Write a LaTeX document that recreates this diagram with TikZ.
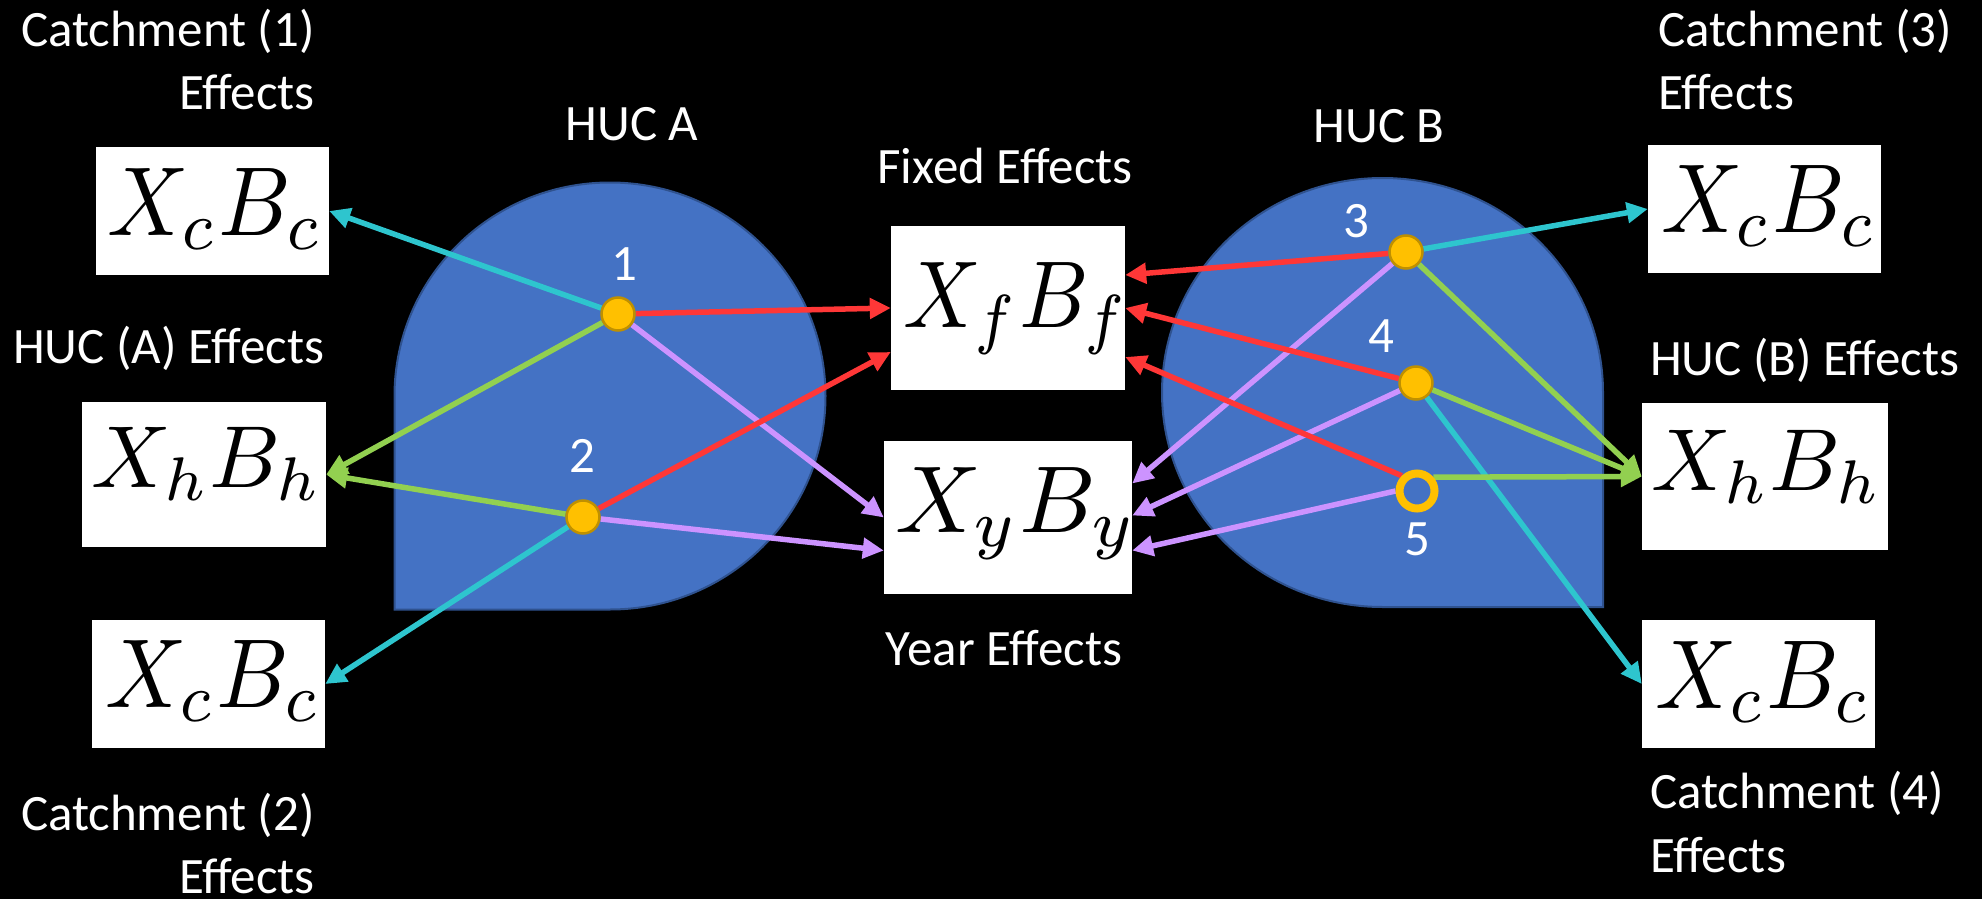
\documentclass[tikz,border=0pt]{standalone}
\usepackage{fontspec}
\setmainfont{Carlito}
\usetikzlibrary{arrows.meta}
\definecolor{hucfill}{HTML}{4472C4}
\definecolor{hucline}{HTML}{2F528F}
\definecolor{dotfill}{HTML}{FFC000}
\definecolor{dotline}{HTML}{BF9000}
\definecolor{cteal}{HTML}{2EC5CE}
\definecolor{cgreen}{HTML}{92D050}
\definecolor{cred}{HTML}{FF3737}
\definecolor{clav}{HTML}{CC93FF}
\pgfdeclarelayer{shapes}
\pgfdeclarelayer{conns}
\pgfsetlayers{shapes,conns,main}
\begin{document}
\begin{tikzpicture}[x=1pt,y=-1pt,
  lbl/.style={text=white,inner sep=0pt,font=\fontsize{51}{60}\selectfont},
  box/.style={fill=white,inner sep=0pt,draw=none},
  eq/.style={inner sep=0pt,text=black},
  dot/.style={circle,fill=dotfill,draw=dotline,line width=2.5pt,minimum size=33pt,inner sep=0pt},
  ring/.style={circle,draw=dotfill,line width=8pt,minimum size=35pt,inner sep=0pt},
  conn/.style={line width=5.5pt,-{Triangle[length=21pt,width=20pt]}},
  huc/.style={fill=hucfill,draw=hucline,line width=2pt}]
\begin{pgfonlayer}{shapes}
\fill[black] (0,0) rectangle (1982,899);
\path[huc] (394.5,609.5) -- (394.5,396) .. controls (394.5,278.1) and (491,182.5) .. (610,182.5)
  .. controls (729,182.5) and (825.5,278.1) .. (825.5,396)
  .. controls (825.5,513.9) and (729,609.5) .. (610,609.5) -- cycle;
\path[huc] (1603,607) -- (1603,392.5) .. controls (1603,274) and (1504.3,178) .. (1382.5,178)
  .. controls (1260.7,178) and (1162,274) .. (1162,392.5)
  .. controls (1162,511) and (1260.7,607) .. (1382.5,607) -- cycle;
\end{pgfonlayer}
\useasboundingbox (0,0) rectangle (1982,899);

% boxes
\node[box,minimum width=233pt,minimum height=128pt] (c1) at (212.5,211) {};
\node[box,minimum width=244pt,minimum height=145pt] (hA) at (204,474.5) {};
\node[box,minimum width=233pt,minimum height=128pt] (c2) at (208.5,684) {};
\node[box,minimum width=234pt,minimum height=164pt] (xf) at (1008,308) {};
\node[box,minimum width=248pt,minimum height=153pt] (xy) at (1008,517.5) {};
\node[box,minimum width=233pt,minimum height=128pt] (c3) at (1764.5,209) {};
\node[box,minimum width=246pt,minimum height=147pt] (hB) at (1765,476.5) {};
\node[box,minimum width=233pt,minimum height=128pt] (c4) at (1758.5,684) {};

% equations
\node[eq,anchor=base west] (c1m) at (107,235) {\scalebox{9.0}[9.8]{$X_cB_c$}};
\node[eq,anchor=base west] (hAm) at (91,487) {\scalebox{8.8}{$X_hB_h$}};
\node[eq,anchor=base west] (c2m) at (105,707) {\scalebox{9.0}[9.8]{$X_cB_c$}};
\node[eq,anchor=base west] (xfm) at (903,327) {\scalebox{8.6}[9.5]{$X_fB_f$}};
\node[eq,anchor=base west] (xym) at (895,532) {\scalebox{9.5}{$X_yB_y$}};
\node[eq,anchor=base west] (c3m) at (1661,232) {\scalebox{9.0}[9.8]{$X_cB_c$}};
\node[eq,anchor=base west] (hBm) at (1651,490) {\scalebox{8.8}{$X_hB_h$}};
\node[eq,anchor=base west] (c4m) at (1655,708) {\scalebox{9.0}[9.8]{$X_cB_c$}};

% dots
\node[dot] (d1) at (618,314) {};
\node[dot] (d2) at (583,517) {};
\node[dot] (d3) at (1406,252) {};
\node[dot] (d4) at (1416,383) {};
\node[ring] (d5) at (1417,491) {};

% connectors
\begin{pgfonlayer}{conns}
\draw[conn,cteal] (d1) -- (c1.east);
\draw[conn,cgreen] (d1) -- (hA.east);
\draw[conn,cred] (d1) -- (xf.west);
\draw[conn,clav] (d1) -- (xy.west);
\draw[conn,cgreen] (d2) -- (hA.east);
\draw[conn,cteal] (d2) -- (c2.east);
\draw[conn,cred] (d2) -- ([yshift=-44pt]xf.west);
\draw[conn,clav] (d2) -- ([yshift=-33pt]xy.west);
\draw[conn,cred] (d3) -- ([yshift=33pt]xf.east);
\draw[conn,cteal] (d3) -- (c3.west);
\draw[conn,cgreen] (d3) -- (hB.west);
\draw[conn,clav] (d3) -- ([yshift=34pt]xy.east);
\draw[conn,cred] (d4) -- (xf.east);
\draw[conn,clav] (d4) -- ([yshift=2pt]xy.east);
\draw[conn,cgreen] (d4) -- (hB.west);
\draw[conn,cteal] (d4) -- (c4.west);
\draw[conn,cred] (d5.135) -- ([yshift=-49pt]xf.east);
\draw[conn,cgreen] (d5.40) -- (hB.west);
\draw[conn,clav] (d5.180) -- ([yshift=-33pt]xy.east);
\end{pgfonlayer}

% labels
\node[lbl,anchor=base east] (t1a) at (315,47) {Catchment (1)};
\node[lbl,anchor=base east] (t1b) at (315,110) {Effects};
\node[lbl,anchor=base west] (tha) at (13,363) {HUC (A) Effects};
\node[lbl,anchor=base east] (t2a) at (315,830) {Catchment (2)};
\node[lbl,anchor=base east] (t2b) at (315,893) {Effects};
\node[lbl,anchor=base] (hucA) at (632,140) {HUC A};
\node[lbl,anchor=base] (fixed) at (1005,183) {Fixed Effects};
\node[lbl,anchor=base] (year) at (1004,665) {Year Effects};
\node[lbl,anchor=base] (hucB) at (1379,142) {HUC B};
\node[lbl,anchor=base west] (t3a) at (1658,47) {Catchment (3)};
\node[lbl,anchor=base west] (t3b) at (1658,110) {Effects};
\node[lbl,anchor=base west] (thb) at (1650,375) {HUC (B) Effects};
\node[lbl,anchor=base west] (t4a) at (1650,808) {Catchment (4)};
\node[lbl,anchor=base west] (t4b) at (1650,872) {Effects};
\node[lbl,anchor=base] (n1) at (624,280) {1};
\node[lbl,anchor=base] (n2) at (582,472) {2};
\node[lbl,anchor=base] (n3) at (1356,237) {3};
\node[lbl,anchor=base] (n4) at (1381,352) {4};
\node[lbl,anchor=base] (n5) at (1417,555) {5};
\end{tikzpicture}
\end{document}
